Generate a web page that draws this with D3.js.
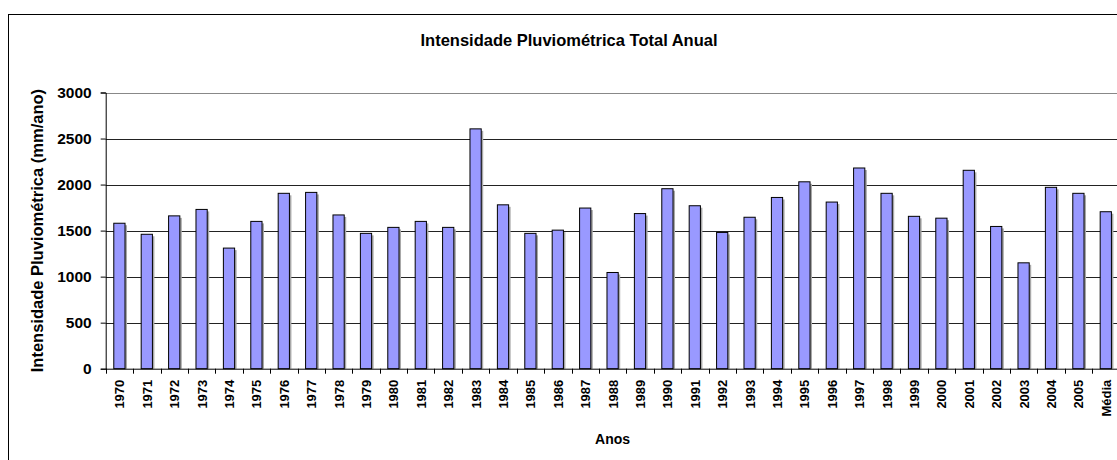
<!DOCTYPE html>
<html>
<head>
<meta charset="utf-8">
<script src="https://cdn.jsdelivr.net/npm/d3@7"></script>
<style>
  body { margin: 0; background: #fff; }
  text { font-family: "Liberation Sans", Arial, sans-serif; font-weight: bold; fill: #000; }
</style>
</head>
<body>
<svg id="chart"></svg>
<script>
// categories and values
var anos = ["1970","1971","1972","1973","1974","1975","1976","1977","1978","1979",
            "1980","1981","1982","1983","1984","1985","1986","1987","1988","1989",
            "1990","1991","1992","1993","1994","1995","1996","1997","1998","1999",
            "2000","2001","2002","2003","2004","2005","Média"]
var chuva = [1580,1460,1660,1730,1310,1600,1905,1915,1670,1470,
             1535,1600,1535,2605,1780,1470,1505,1745,1045,1685,
             1955,1770,1480,1645,1860,2030,1810,2180,1905,1655,
             1635,2155,1545,1150,1970,1905,1705]
var yTicks = [0,500,1000,1500,2000,2500,3000]

var width = 1117, height = 460
var plot = {left: 105.7, right: 1119.5, top: 92.5, bottom: 368.7}

var svg = d3.select("#chart").attr("width", width).attr("height", height)

// outer chart border (runs off the right and bottom edge)
svg.append("rect")
    .attr("x", 8.5).attr("y", 14.5)
    .attr("width", 1120).attr("height", 460)
    .attr("fill", "none").attr("stroke", "#000")

var x = d3.scaleBand().domain(anos).range([plot.left, plot.right])
    .paddingInner(0.59).paddingOuter(0.295)
var xb = d3.scaleBand().domain(anos).range([plot.left, plot.right])
var y = d3.scaleLinear().domain([0, 3000]).range([plot.bottom, plot.top])

// gridlines
svg.append("g").selectAll("line")
    .data(yTicks.filter(function(d){ return d > 0 }))
  .enter().append("line")
    .attr("x1", plot.left).attr("x2", plot.right)
    .attr("y1", function(d){ return Math.round(y(d)) + 0.5 })
    .attr("y2", function(d){ return Math.round(y(d)) + 0.5 })
    .attr("stroke", function(d){ return d == 3000 ? "#888" : "#222" })

// bar shadows then bars
svg.append("g").selectAll("rect")
    .data(chuva)
  .enter().append("rect")
    .attr("x", function(d, i){ return x(anos[i]) + 2 })
    .attr("y", function(d){ return y(d) + 2 })
    .attr("width", x.bandwidth())
    .attr("height", function(d){ return plot.bottom - y(d) - 2 })
    .attr("fill", "#a8a8a8")

svg.append("g").selectAll("rect")
    .data(chuva)
  .enter().append("rect")
    .attr("x", function(d, i){ return x(anos[i]) })
    .attr("y", function(d){ return y(d) })
    .attr("width", x.bandwidth())
    .attr("height", function(d){ return plot.bottom - y(d) })
    .attr("fill", "#9999ff")
    .attr("stroke", "#000")
    .attr("stroke-width", 1)

// y axis
var yAxis = svg.append("g")
    .attr("transform", "translate(" + plot.left + ",0)")
    .call(d3.axisLeft(y).tickValues(yTicks).tickFormat(d3.format("d")).tickSize(5).tickPadding(9))
yAxis.select(".domain").attr("stroke", "#000")
yAxis.selectAll("text").style("font-size", "15.5px").style("font-family", "Liberation Sans, Arial").style("font-weight", "bold")

// x axis: ticks between categories
var xAxisG = svg.append("g")
xAxisG.append("line")
    .attr("x1", plot.left).attr("x2", plot.right)
    .attr("y1", plot.bottom + 0.5).attr("y2", plot.bottom + 0.5)
    .attr("stroke", "#000")
xAxisG.selectAll("line.tk")
    .data(anos)
  .enter().append("line")
    .attr("class", "tk")
    .attr("x1", function(d){ return Math.round(xb(d)) + 0.5 })
    .attr("x2", function(d){ return Math.round(xb(d)) + 0.5 })
    .attr("y1", plot.bottom).attr("y2", plot.bottom + 5)
    .attr("stroke", "#000")
xAxisG.selectAll("text")
    .data(anos)
  .enter().append("text")
    .attr("transform", function(d){
        return "translate(" + (xb(d) + xb.bandwidth()/2 + 5) + "," + (plot.bottom + 11) + ") rotate(-90)" })
    .attr("text-anchor", "end")
    .style("font-size", "13px")
    .text(function(d){ return d })

// titles
svg.append("text")
    .attr("x", 569).attr("y", 46)
    .attr("text-anchor", "middle")
    .style("font-size", "16.5px")
    .text("Intensidade Pluviométrica Total Anual")

svg.append("text")
    .attr("x", (plot.left + plot.right)/2).attr("y", 443.5)
    .attr("text-anchor", "middle")
    .style("font-size", "14px")
    .text("Anos")

svg.append("text")
    .attr("transform", "translate(43," + (plot.top + plot.bottom)/2 + ") rotate(-90)")
    .attr("text-anchor", "middle")
    .style("font-size", "16.5px")
    .text("Intensidade Pluviométrica (mm/ano)")
</script>
</body>
</html>
